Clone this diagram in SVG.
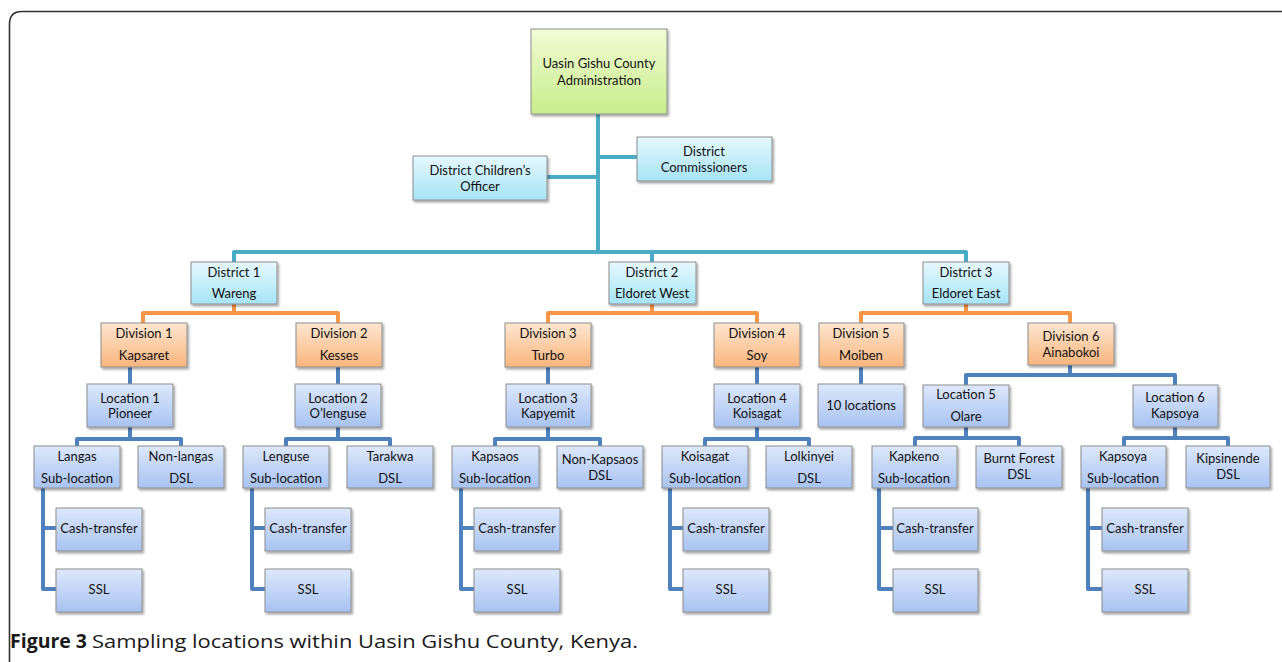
<svg xmlns="http://www.w3.org/2000/svg" width="1282" height="662" viewBox="0 0 1282 662">
<defs>
<linearGradient id="gGreen" x1="0" y1="0" x2="0" y2="1"><stop offset="0" stop-color="#f2fcd6"/><stop offset="1" stop-color="#c8ed8b"/></linearGradient>
<linearGradient id="gCyan" x1="0" y1="0" x2="0" y2="1"><stop offset="0" stop-color="#e6f8fd"/><stop offset="1" stop-color="#a6e4f6"/></linearGradient>
<linearGradient id="gOrange" x1="0" y1="0" x2="0" y2="1"><stop offset="0" stop-color="#fde6d0"/><stop offset="1" stop-color="#f9b57d"/></linearGradient>
<linearGradient id="gBlue" x1="0" y1="0" x2="0" y2="1"><stop offset="0" stop-color="#dde8fb"/><stop offset="1" stop-color="#a8c3f1"/></linearGradient>
<filter id="sh" x="-10%" y="-10%" width="130%" height="140%"><feDropShadow dx="1.5" dy="2" stdDeviation="1.2" flood-color="#000" flood-opacity="0.35"/></filter>
</defs>
<style>
.bx{stroke:#8e8e8e;stroke-width:1;filter:url(#sh)}
.gr{fill:url(#gGreen)} .cy{fill:url(#gCyan)} .or{fill:url(#gOrange)} .bl{fill:url(#gBlue)}
text{font-family:Lato,"Open Sans","Liberation Sans",sans-serif;font-size:13px;fill:#111;text-anchor:middle;dominant-baseline:central}
.c{fill:none;stroke-width:4;stroke-linejoin:round}
.t{stroke:#4bacc6}.o{stroke:#f79646}.b{stroke:#4f81bd}
.cap{font-family:"Open Sans","Liberation Sans",sans-serif;font-size:19px;text-anchor:start;dominant-baseline:auto;fill:#1a1a1a}
</style>
<path d="M9.5,662 V24 Q9.5,11.5 22,11.5 H1282" fill="none" stroke="#333" stroke-width="1.6"/>
<g id="connectors">
<path class="c t" d="M598,114 V252"/>
<path class="c t" d="M234,262 V252 H966 V262"/>
<path class="c t" d="M652,252 V262"/>
<path class="c t" d="M547,177 H598"/>
<path class="c t" d="M598,157 H637"/>
<path class="c o" d="M143,323 V313 H338 V323"/>
<path class="c o" d="M234,304 V313"/>
<path class="c o" d="M548,323 V313 H757 V323"/>
<path class="c o" d="M652,304 V313"/>
<path class="c o" d="M861,323 V313 H1070 V323"/>
<path class="c o" d="M966,304 V313"/>
<path class="c b" d="M130,367 V384"/>
<path class="c b" d="M338,367 V384"/>
<path class="c b" d="M548,367 V384"/>
<path class="c b" d="M757,367 V384"/>
<path class="c b" d="M861,367 V384"/>
<path class="c b" d="M1070,365 V375"/>
<path class="c b" d="M966,385 V375 H1175 V385"/>
<path class="c b" d="M77,446 V439 H181 V446"/><path class="c b" d="M130,427 V439"/>
<path class="c b" d="M286,446 V439 H390 V446"/><path class="c b" d="M338,427 V439"/>
<path class="c b" d="M495,446 V439 H600 V446"/><path class="c b" d="M548,427 V439"/>
<path class="c b" d="M705,446 V439 H809 V446"/><path class="c b" d="M757,427 V439"/>
<path class="c b" d="M915,446 V438 H1019 V446"/><path class="c b" d="M966,427 V438"/>
<path class="c b" d="M1124,446 V438 H1228 V446"/><path class="c b" d="M1175,427 V438"/>
<path class="c b" d="M43,488 V589 H56 M43,528 H56"/>
<path class="c b" d="M252,488 V589 H265 M252,528 H265"/>
<path class="c b" d="M461,488 V589 H474 M461,528 H474"/>
<path class="c b" d="M670,488 V589 H683 M670,528 H683"/>
<path class="c b" d="M879,488 V589 H893 M879,528 H893"/>
<path class="c b" d="M1088,488 V589 H1102 M1088,528 H1102"/>
</g>
<g id="county"><rect class="bx gr" x="531" y="29" width="136" height="85"/><text x="599" y="63">Uasin Gishu County</text><text x="599" y="80">Administration</text></g>
<g id="dco"><rect class="bx cy" x="413" y="156" width="134" height="44"/><text x="480" y="170">District Children’s</text><text x="480" y="186">Officer</text></g>
<g id="dc"><rect class="bx cy" x="637" y="137" width="135" height="44"/><text x="704" y="151">District</text><text x="704" y="167">Commissioners</text></g>
<g id="d1"><rect class="bx cy" x="191" y="262" width="86" height="42"/><text x="234" y="272">District 1</text><text x="234" y="293">Wareng</text></g>
<g id="d2"><rect class="bx cy" x="609" y="262" width="87" height="42"/><text x="652" y="272">District 2</text><text x="652" y="293">Eldoret West</text></g>
<g id="d3"><rect class="bx cy" x="923" y="262" width="86" height="42"/><text x="966" y="272">District 3</text><text x="966" y="293">Eldoret East</text></g>
<g id="div1"><rect class="bx or" x="101" y="323" width="86" height="44"/><text x="144" y="333">Division 1</text><text x="144" y="355">Kapsaret</text></g>
<g id="div2"><rect class="bx or" x="296" y="323" width="86" height="44"/><text x="339" y="333">Division 2</text><text x="339" y="355">Kesses</text></g>
<g id="div3"><rect class="bx or" x="505" y="323" width="86" height="44"/><text x="548" y="333">Division 3</text><text x="548" y="355">Turbo</text></g>
<g id="div4"><rect class="bx or" x="714" y="323" width="86" height="44"/><text x="757" y="333">Division 4</text><text x="757" y="355">Soy</text></g>
<g id="div5"><rect class="bx or" x="819" y="323" width="85" height="44"/><text x="861" y="333">Division 5</text><text x="861" y="355">Moiben</text></g>
<g id="div6"><rect class="bx or" x="1028" y="323" width="86" height="42"/><text x="1071" y="336">Division 6</text><text x="1071" y="352">Ainabokoi</text></g>
<g id="loc1"><rect class="bx bl" x="87" y="384" width="86" height="43"/><text x="130" y="398">Location 1</text><text x="130" y="413">Pioneer</text></g>
<g id="loc2"><rect class="bx bl" x="295" y="384" width="86" height="43"/><text x="338" y="398">Location 2</text><text x="338" y="413">O’lenguse</text></g>
<g id="loc3"><rect class="bx bl" x="506" y="384" width="85" height="43"/><text x="548" y="398">Location 3</text><text x="548" y="413">Kapyemit</text></g>
<g id="loc4"><rect class="bx bl" x="714" y="384" width="86" height="43"/><text x="757" y="398">Location 4</text><text x="757" y="413">Koisagat</text></g>
<g id="ten"><rect class="bx bl" x="818" y="384" width="86" height="43"/><text x="861" y="405">10 locations</text></g>
<g id="loc5"><rect class="bx bl" x="923" y="385" width="86" height="42"/><text x="966" y="394">Location 5</text><text x="966" y="416">Olare</text></g>
<g id="loc6"><rect class="bx bl" x="1133" y="385" width="85" height="42"/><text x="1175" y="397">Location 6</text><text x="1175" y="413">Kapsoya</text></g>
<g id="langas"><rect class="bx bl" x="34" y="446" width="86" height="42"/><text x="77" y="456">Langas</text><text x="77" y="478">Sub-location</text></g>
<g id="nonlangas"><rect class="bx bl" x="138" y="446" width="86" height="42"/><text x="181" y="456">Non-langas</text><text x="181" y="478">DSL</text></g>
<g id="lenguse"><rect class="bx bl" x="243" y="446" width="86" height="42"/><text x="286" y="456">Lenguse</text><text x="286" y="478">Sub-location</text></g>
<g id="tarakwa"><rect class="bx bl" x="347" y="446" width="86" height="42"/><text x="390" y="456">Tarakwa</text><text x="390" y="478">DSL</text></g>
<g id="kapsaos"><rect class="bx bl" x="452" y="446" width="87" height="42"/><text x="495" y="456">Kapsaos</text><text x="495" y="478">Sub-location</text></g>
<g id="nonkapsaos"><rect class="bx bl" x="557" y="446" width="86" height="42"/><text x="600" y="459">Non-Kapsaos</text><text x="600" y="475">DSL</text></g>
<g id="koisagat"><rect class="bx bl" x="662" y="446" width="86" height="42"/><text x="705" y="456">Koisagat</text><text x="705" y="478">Sub-location</text></g>
<g id="lolkinyei"><rect class="bx bl" x="766" y="446" width="86" height="42"/><text x="809" y="456">Lolkinyei</text><text x="809" y="478">DSL</text></g>
<g id="kapkeno"><rect class="bx bl" x="872" y="446" width="85" height="42"/><text x="914" y="456">Kapkeno</text><text x="914" y="478">Sub-location</text></g>
<g id="burnt"><rect class="bx bl" x="976" y="446" width="86" height="42"/><text x="1019" y="458">Burnt Forest</text><text x="1019" y="474">DSL</text></g>
<g id="kapsoya"><rect class="bx bl" x="1081" y="446" width="85" height="42"/><text x="1123" y="456">Kapsoya</text><text x="1123" y="478">Sub-location</text></g>
<g id="kipsinende"><rect class="bx bl" x="1186" y="446" width="84" height="42"/><text x="1228" y="458">Kipsinende</text><text x="1228" y="474">DSL</text></g>
<g id="cash1"><rect class="bx bl" x="56" y="508" width="86" height="43"/><text x="99" y="528">Cash-transfer</text></g>
<g id="ssl1"><rect class="bx bl" x="56" y="569" width="86" height="43"/><text x="99" y="589">SSL</text></g>
<g id="cash2"><rect class="bx bl" x="265" y="508" width="86" height="43"/><text x="308" y="528">Cash-transfer</text></g>
<g id="ssl2"><rect class="bx bl" x="265" y="569" width="86" height="43"/><text x="308" y="589">SSL</text></g>
<g id="cash3"><rect class="bx bl" x="474" y="508" width="86" height="43"/><text x="517" y="528">Cash-transfer</text></g>
<g id="ssl3"><rect class="bx bl" x="474" y="569" width="86" height="43"/><text x="517" y="589">SSL</text></g>
<g id="cash4"><rect class="bx bl" x="683" y="508" width="86" height="43"/><text x="726" y="528">Cash-transfer</text></g>
<g id="ssl4"><rect class="bx bl" x="683" y="569" width="86" height="43"/><text x="726" y="589">SSL</text></g>
<g id="cash5"><rect class="bx bl" x="893" y="508" width="85" height="43"/><text x="935" y="528">Cash-transfer</text></g>
<g id="ssl5"><rect class="bx bl" x="893" y="569" width="85" height="43"/><text x="935" y="589">SSL</text></g>
<g id="cash6"><rect class="bx bl" x="1102" y="508" width="86" height="43"/><text x="1145" y="528">Cash-transfer</text></g>
<g id="ssl6"><rect class="bx bl" x="1102" y="569" width="86" height="43"/><text x="1145" y="589">SSL</text></g>
<text class="cap" x="10" y="648"><tspan font-weight="bold" textLength="77" lengthAdjust="spacingAndGlyphs">Figure 3</tspan><tspan x="92" textLength="546" lengthAdjust="spacingAndGlyphs">Sampling locations within Uasin Gishu County, Kenya.</tspan></text>
</svg>
